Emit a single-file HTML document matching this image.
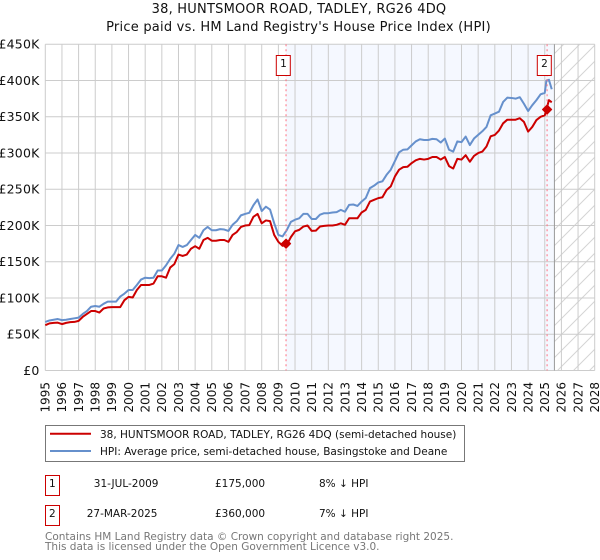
<!DOCTYPE html>
<html lang="en">
<head>
<meta charset="utf-8">
<title>38, HUNTSMOOR ROAD, TADLEY, RG26 4DQ</title>
<style>
html,body{margin:0;padding:0;background:#fff;}
body{width:600px;height:560px;overflow:hidden;}
svg{display:block;font-family:"DejaVu Sans",sans-serif;}
</style>
</head>
<body>
<svg id="chart" xmlns="http://www.w3.org/2000/svg" width="600" height="560" viewBox="0 0 600 560">
  <defs>
    <pattern id="hatch" patternUnits="userSpaceOnUse" width="16" height="16">
      <path d="M-4 4L4 -4M0 16L16 0M12 20L20 12" stroke="#d4d4d4" stroke-width="1" fill="none"/>
    </pattern>
  </defs>
  <text x="299" y="13" text-anchor="middle" font-size="13" letter-spacing="0.22" fill="#111">38, HUNTSMOOR ROAD, TADLEY, RG26 4DQ</text>
  <text x="298.5" y="31" text-anchor="middle" font-size="13" letter-spacing="0.23" fill="#111">Price paid vs. HM Land Registry's House Price Index (HPI)</text>
  <g id="bands"></g>
  <g id="grid"></g>
  <g id="axis-labels"></g>
  <g id="series"></g>
  <g id="annotations"></g>

  <g>
    <rect x="45.5" y="425.5" width="419" height="36" fill="#fff" stroke="#777" stroke-width="1"/>
    <line x1="50" x2="91" y1="433.7" y2="433.7" stroke="#cc0000" stroke-width="2"/>
    <text x="100" y="438" font-size="10.5" fill="#111">38, HUNTSMOOR ROAD, TADLEY, RG26 4DQ (semi-detached house)</text>
    <line x1="50" x2="91" y1="451" y2="451" stroke="#6690cc" stroke-width="2"/>
    <text x="100" y="455" font-size="10.5" fill="#111">HPI: Average price, semi-detached house, Basingstoke and Deane</text>
  </g>

  <g font-size="10.5" fill="#111">
    <rect x="45.5" y="475.5" width="14" height="20" fill="#fff" stroke="#cc0000" stroke-width="1"/>
    <text x="52.3" y="487" text-anchor="middle">1</text>
    <text x="158.5" y="487" text-anchor="end">31-JUL-2009</text>
    <text x="215" y="487">£175,000</text>
    <text x="319" y="487">8% ↓ HPI</text>
    <rect x="45.5" y="505.5" width="14" height="20" fill="#fff" stroke="#cc0000" stroke-width="1"/>
    <text x="52.3" y="517" text-anchor="middle">2</text>
    <text x="157.5" y="517" text-anchor="end">27-MAR-2025</text>
    <text x="215" y="517">£360,000</text>
    <text x="319" y="517">7% ↓ HPI</text>
  </g>

  <text x="45" y="540" font-size="10.5" fill="#777">Contains HM Land Registry data © Crown copyright and database right 2025.</text>
  <text x="45" y="550" font-size="10.5" fill="#777">This data is licensed under the Open Government Licence v3.0.</text>
</svg>
<script>
var yearTicks = [1995,1996,1997,1998,1999,2000,2001,2002,2003,2004,2005,2006,2007,2008,2009,2010,2011,2012,2013,2014,2015,2016,2017,2018,2019,2020,2021,2022,2023,2024,2025,2026,2027,2028];
var valueTicks = [0,50,100,150,200,250,300,350,400,450];
var valueTickLabels = ["£0","£50K","£100K","£150K","£200K","£250K","£300K","£350K","£400K","£450K"];

var dates = [
1995,1995.25,1995.5,1995.75,1996,1996.25,1996.5,1996.75,1997,1997.25,1997.5,1997.75,
1998,1998.25,1998.5,1998.75,1999,1999.25,1999.5,1999.75,2000,2000.25,2000.5,2000.75,
2001,2001.25,2001.5,2001.75,2002,2002.25,2002.5,2002.75,2003,2003.25,2003.5,2003.75,
2004,2004.25,2004.5,2004.75,2005,2005.25,2005.5,2005.75,2006,2006.25,2006.5,2006.75,
2007,2007.25,2007.5,2007.75,2008,2008.25,2008.5,2008.75,2009,2009.25,2009.5,2009.75,
2010,2010.25,2010.5,2010.75,2011,2011.25,2011.5,2011.75,2012,2012.25,2012.5,2012.75,
2013,2013.25,2013.5,2013.75,2014,2014.25,2014.5,2014.75,2015,2015.25,2015.5,2015.75,
2016,2016.25,2016.5,2016.75,2017,2017.25,2017.5,2017.75,2018,2018.25,2018.5,2018.75,
2019,2019.25,2019.5,2019.75,2020,2020.25,2020.5,2020.75,2021,2021.25,2021.5,2021.75,
2022,2022.25,2022.5,2022.75,2023,2023.25,2023.5,2023.75,2024,2024.25,2024.5,2024.75,
2025,2025.1,2025.25,2025.42
];
var hpiValues = [
67,69,70,71,69.5,70,71,72,73,78,82,88,
89,88,92,95,95,95,102,106,111,111,118,125.5,
128,127.5,128,138,138,145,154,161,173,170.5,173,180,
187,183,193.5,198,193.5,193.5,195,194.5,192.5,201,206,214,
216,217.5,228,236,220,226,222,203,187,185,193.5,205,
208,210,216,216,209,209,215,217,217,218,218.5,221.6,
219,228.5,229,227,233,238,251.6,255,259.4,261,270,277,
289,301,304.6,305,310.6,316,319,318,
318,319.5,319,314.5,320,304.5,302,316,315,322.7,311,320,
325,330,336,352,354.5,357,370.5,376.4,376,375,377,368,358,366,373,381,
383,400,401,388
];
var priceValues = [
62.5,65,65.7,66,64,65.7,66.7,67,68.5,74,78,82,
82,80,85.5,87,87.4,87.4,87.4,97,101.6,100.7,111,118,
118,118,120,130,130,128,142,146.7,160,158,160,168,
171.5,168,180,183,179,179,180,180,177.5,187,191,198,
200,200.5,212,216,203,207,206,187,177.5,172,173,184,
192,194,198.6,200,192.6,193,198.6,199.5,200,200,201,203,
201,210,210,210,218,221.6,233,235.5,237.8,239,249,254,
267.7,277,280.6,281,286,290,292,291,
292,294.5,294.5,291,294.5,282,278.6,292,291,297,288,296,
300,302,309,323,325,331,341,346,346,346,348,343,329.5,336,345.5,350,
352,360,373,370
];
var saleDates = [2009.46,2025.14];
var salePrices = [175,360];
var saleLabels = ["1","2"];
var forecastStart = 2025.58;

var NS = "http://www.w3.org/2000/svg";
var plot = {left:45.3,right:594.7,top:44.3,bottom:370.5,xMin:1995,xMax:2028,yMin:0,yMax:450};
function xScale(d){return plot.left+(d-plot.xMin)*(plot.right-plot.left)/(plot.xMax-plot.xMin);}
function yScale(v){return plot.bottom-(v-plot.yMin)*(plot.bottom-plot.top)/(plot.yMax-plot.yMin);}
function make(tag,attrs,parent){
  var el=document.createElementNS(NS,tag);
  for(var k in attrs){el.setAttribute(k,attrs[k]);}
  parent.appendChild(el);
  return el;
}
var bands=document.getElementById("bands");
var grid=document.getElementById("grid");
var axisLabels=document.getElementById("axis-labels");
var series=document.getElementById("series");
var annotations=document.getElementById("annotations");

var shade=make("rect",{x:xScale(saleDates[0]),y:plot.top,width:xScale(forecastStart)-xScale(saleDates[0]),height:plot.bottom-plot.top,fill:"#f5f8ff"},bands);


var hatch=make("rect",{x:xScale(forecastStart),y:plot.top,width:plot.right-xScale(forecastStart),height:plot.bottom-plot.top,fill:"url(#hatch)"},bands);



yearTicks.forEach(function(y){
  var gx=make("line",{x1:xScale(y),x2:xScale(y),y1:plot.top,y2:plot.bottom,stroke:"#cccccc","stroke-width":1},grid);
  
  
  var cx=xScale(y)+4.3, cy=382;
  var t=make("text",{x:cx,y:cy,"font-size":12,fill:"#111","text-anchor":"end",transform:"rotate(-90 "+cx+" "+cy+")"},axisLabels);
  t.textContent=String(y);
  
  
});
valueTicks.forEach(function(v,i){
  var gy=make("line",{x1:plot.left,x2:plot.right,y1:yScale(v),y2:yScale(v),stroke:"#cccccc","stroke-width":1},grid);
  
  
  var t=make("text",{x:39.5,y:yScale(v)+4.4,"font-size":12.5,"letter-spacing":0.2,fill:"#111","text-anchor":"end"},axisLabels);
  t.textContent=valueTickLabels[i];
  
  
});

function linePath(vals){
  return vals.map(function(v,i){return (i?"L":"M")+xScale(dates[i]).toFixed(2)+" "+yScale(v).toFixed(2);}).join("");
}
var forecastLine=make("line",{x1:xScale(forecastStart),x2:xScale(forecastStart),y1:plot.top,y2:plot.bottom,stroke:"#999999","stroke-width":1},annotations);



var hpiLine=make("path",{d:linePath(hpiValues),fill:"none",stroke:"#6690cc","stroke-width":2,"stroke-linejoin":"round"},series);


var priceLine=make("path",{d:linePath(priceValues),fill:"none",stroke:"#cc0000","stroke-width":2,"stroke-linejoin":"round"},series);



saleDates.forEach(function(d,i){
  var sx=xScale(d), sy=yScale(salePrices[i]);
  var vl=make("line",{x1:sx,x2:sx,y1:plot.top,y2:plot.bottom,stroke:"#ff7080","stroke-width":1,"stroke-dasharray":"2 3"},annotations);
  
  
  var r=4.6;
  var mark=make("path",{d:"M"+sx+" "+(sy-r)+"L"+(sx+r)+" "+sy+"L"+sx+" "+(sy+r)+"L"+(sx-r)+" "+sy+"Z",fill:"#cc0000",stroke:"#cc0000","stroke-width":1,"stroke-linejoin":"round"},annotations);
  
  
  var box=make("rect",{x:Math.round(sx-10.5)+0.5-0.2,y:55.5,width:14,height:20,fill:"#fff",stroke:"#cc0000","stroke-width":1},annotations);
  
  
  var lab=make("text",{x:Math.round(sx-10.5)+7.5,y:67,"font-size":10.5,fill:"#111","text-anchor":"middle"},annotations);
  lab.textContent=saleLabels[i];
  
  
});
</script>
</body>
</html>
